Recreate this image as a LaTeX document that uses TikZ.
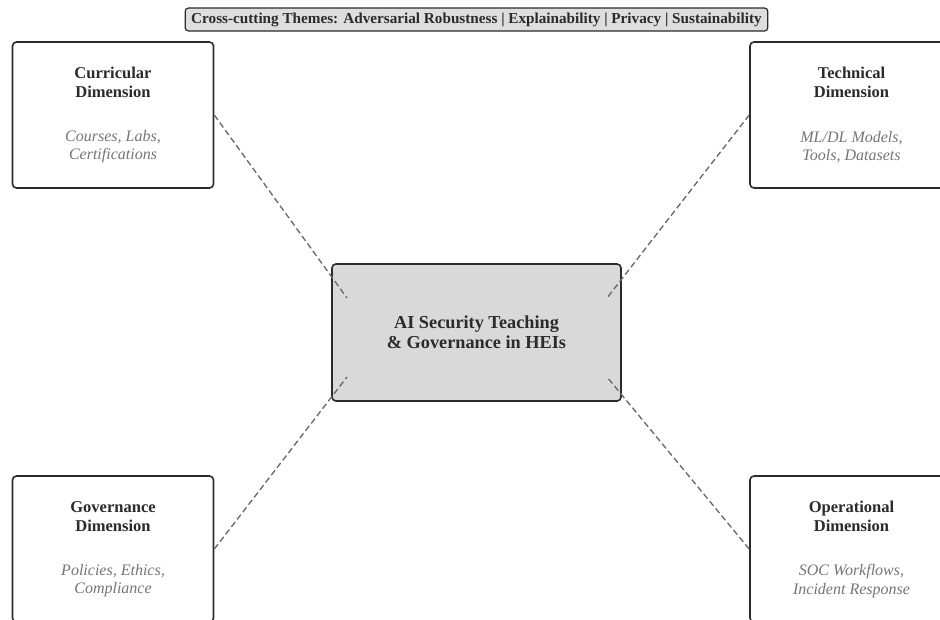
\documentclass[tikz,border=0pt]{standalone}
\usepackage{fontspec}
\setmainfont{Liberation Serif}
\usetikzlibrary{positioning}

\definecolor{inkgray}{HTML}{2B2B2B}
\definecolor{notegray}{HTML}{757575}
\definecolor{linkgray}{HTML}{686868}
\definecolor{hubgray}{HTML}{D9D9D9}
\definecolor{themegray}{HTML}{DEDEDE}

\begin{document}
\begin{tikzpicture}[
    x=0.75pt,
    y=-0.75pt,
    dimbox/.style={
        draw=inkgray,
        line width=1.2pt,
        rounded corners=3pt,
        fill=white,
        minimum width=150.75pt,
        minimum height=109.5pt,
    },
    hub/.style={
        draw=inkgray,
        line width=1.2pt,
        rounded corners=3pt,
        fill=hubgray,
        minimum width=216.75pt,
        minimum height=102.75pt,
        align=center,
        text=inkgray,
        font=\fontsize{13.7}{14.8}\selectfont\bfseries,
    },
    theme/.style={
        draw=inkgray,
        line width=0.9pt,
        rounded corners=2.5pt,
        fill=themegray,
        minimum width=437pt,
        minimum height=17.25pt,
        inner sep=0pt,
        text=inkgray,
        font=\fontsize{11.4}{13}\selectfont\bfseries,
    },
    dimtitle/.style={
        align=center,
        text=inkgray,
        font=\fontsize{12.4}{14.2}\selectfont\bfseries,
    },
    dimnote/.style={
        align=center,
        text=notegray,
        font=\fontsize{12}{13.6}\selectfont\itshape,
    },
    link/.style={
        draw=linkgray,
        line width=1pt,
        dash pattern=on 4.5pt off 2.5pt,
    }
]
    % Frame
    \useasboundingbox (0,0) rectangle (940,619);
    \clip (0,0) rectangle (940,619);

    % Themes banner
    \node[theme] (themes) at (476.5,19.5)
        {Cross-cutting Themes: Adversarial Robustness | Explainability | Privacy | Sustainability};

    % Dimensions
    \node[dimbox] (cur) at (113,115) {};
    \node[dimbox] (tec) at (850.5,115) {};
    \node[dimbox] (gov) at (113,549) {};
    \node[dimbox] (ops) at (850.5,549) {};

    % Centre
    \node[hub] (hub) at (476.5,332.5) {AI Security Teaching\\\& Governance in HEIs};

    % Box texts
    \node[dimtitle] (curT) at (113,82.5) {Curricular\\Dimension};
    \node[dimnote] (curN) at (113,147) {Courses, Labs,\\Certifications};
    \node[dimtitle] (tecT) at (851.5,82.5) {Technical\\Dimension};
    \node[dimnote] (tecN) at (851.5,147) {ML/DL Models,\\Tools, Datasets};
    \node[dimtitle] (govT) at (113,516.5) {Governance\\Dimension};
    \node[dimnote] (govN) at (113,581) {Policies, Ethics,\\Compliance};
    \node[dimtitle] (opsT) at (851.5,516.5) {Operational\\Dimension};
    \node[dimnote] (opsN) at (851.5,581) {SOC Workflows,\\Incident Response};

    % Links
    \coordinate (hubNW) at (347,298);
    \coordinate (hubNE) at (607,298);
    \coordinate (hubSW) at (347,377);
    \coordinate (hubSE) at (607,377);
    \draw[link] (cur.east) -- (hubNW);
    \draw[link] (tec.west) -- (hubNE);
    \draw[link] (gov.east) -- (hubSW);
    \draw[link] (ops.west) -- (hubSE);
\end{tikzpicture}
\end{document}
